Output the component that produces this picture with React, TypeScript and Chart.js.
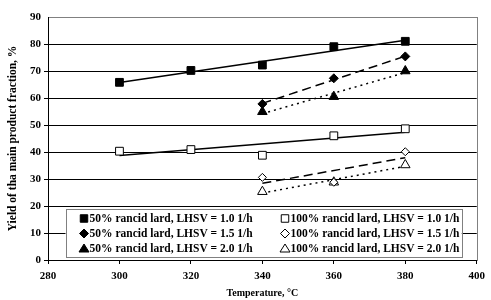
import React, { useEffect, useRef } from "react";
import { Chart, registerables } from "chart.js";

Chart.register(...registerables);

const temps = [300, 320, 340, 360, 380];
const tempsShort = [340, 360, 380];
const lard50_lhsv10 = [65.8, 70.2, 72.2, 79.0, 81.0];
const lard100_lhsv10 = [40.3, 40.9, 38.8, 46.0, 48.6];
const lard50_lhsv15 = [57.8, 67.3, 75.4];
const lard100_lhsv15 = [30.6, 28.8, 40.1];
const lard50_lhsv20 = [54.9, 60.5, 70.0];
const lard100_lhsv20 = [25.3, 28.8, 35.2];

const trendXLong = [300, 380];
const trendXShort = [340, 380];
const trend50_10 = [65.7, 81.4];
const trend100_10 = [38.7, 47.3];
const trend50_15 = [58.0, 75.5];
const trend100_15 = [28.4, 37.9];
const trend50_20 = [54.2, 69.4];
const trend100_20 = [24.8, 34.7];

const legendLabels = [
  "50% rancid lard, LHSV = 1.0 1/h",
  "50% rancid lard, LHSV = 1.5 1/h",
  "50% rancid lard, LHSV = 2.0 1/h",
  "100% rancid lard, LHSV = 1.0 1/h",
  "100% rancid lard, LHSV = 1.5 1/h",
  "100% rancid lard, LHSV = 2.0 1/h",
];

const FONT = "'Liberation Serif', 'Times New Roman', serif";

const pts = (xs: number[], ys: number[]) => xs.map((x, i) => ({ x, y: ys[i] }));

function markerDs(label: string, xs: number[], ys: number[], style: string, filled: boolean, r: number) {
  return {
    label,
    data: pts(xs, ys),
    showLine: false,
    pointStyle: style,
    pointRadius: r,
    pointBackgroundColor: filled ? "#000" : "#fff",
    pointBorderColor: "#000",
    pointBorderWidth: 1,
    borderColor: "#000",
    backgroundColor: filled ? "#000" : "#fff",
    order: 0,
  };
}

function trendDs(xs: number[], ys: number[], dash: number[]) {
  return {
    label: "",
    data: pts(xs, ys),
    showLine: true,
    pointRadius: 0,
    borderColor: "#000",
    borderWidth: 1.5,
    borderDash: dash,
    order: 1,
  };
}

function drawMarker(ctx: CanvasRenderingContext2D, style: string, x: number, y: number, r: number, filled: boolean) {
  ctx.beginPath();
  if (style === "rect") {
    const s = Math.SQRT1_2 * r;
    ctx.rect(x - s, y - s, 2 * s, 2 * s);
  } else if (style === "rectRot") {
    ctx.moveTo(x, y - r);
    ctx.lineTo(x + r, y);
    ctx.lineTo(x, y + r);
    ctx.lineTo(x - r, y);
    ctx.closePath();
  } else {
    ctx.moveTo(x, y - r);
    ctx.lineTo(x + r, y + r * 0.6);
    ctx.lineTo(x - r, y + r * 0.6);
    ctx.closePath();
  }
  ctx.fillStyle = filled ? "#000" : "#fff";
  ctx.strokeStyle = "#000";
  ctx.lineWidth = 1;
  ctx.fill();
  ctx.stroke();
}

const legendPlugin = {
  id: "customLegend",
  afterDraw(chart: any) {
    const { ctx, chartArea } = chart;
    const left = chartArea.left + 17.5;
    const right = chartArea.right - 15;
    const bottom = chartArea.bottom - 3;
    const top = bottom - 48;
    ctx.save();
    ctx.fillStyle = "#fff";
    ctx.fillRect(left, top, right - left, bottom - top);
    ctx.strokeStyle = "#808080";
    ctx.lineWidth = 1;
    ctx.strokeRect(Math.round(left) + 0.5, Math.round(top) + 0.5, Math.round(right - left), Math.round(bottom - top));
    ctx.font = `bold 11.5px ${FONT}`;
    ctx.textBaseline = "middle";
    const rows = [top + 9.5, top + 24.5, top + 40];
    const cols = [left + 18.5, left + 219.5];
    const styles = ["rect", "rectRot", "triangle"];
    const radii = [5.3, 4.5, 5];
    for (let c = 0; c < 2; c++) {
      for (let r = 0; r < 3; r++) {
        const mx = cols[c];
        const my = rows[r];
        drawMarker(ctx, styles[r], mx, my, radii[r], c === 0);
        ctx.fillStyle = "#000";
        ctx.textAlign = "left";
        ctx.fillText(legendLabels[c * 3 + r], mx + 5.5, my + 0.5);
      }
    }
    ctx.restore();
  },
};

const borderPlugin = {
  id: "plotBorder",
  beforeDraw(chart: any) {
    const { ctx, chartArea } = chart;
    ctx.save();
    ctx.strokeStyle = "#808080";
    ctx.lineWidth = 1;
    ctx.strokeRect(
      Math.round(chartArea.left) + 0.5,
      Math.round(chartArea.top) + 0.5,
      Math.round(chartArea.right - chartArea.left),
      Math.round(chartArea.bottom - chartArea.top)
    );
    ctx.restore();
  },
};

export default function App() {
  const ref = useRef<HTMLCanvasElement>(null);
  useEffect(() => {
    if (!ref.current) return;
    const chart = new Chart(ref.current, {
      type: "scatter",
      data: {
        datasets: [
          trendDs(trendXLong, trend50_10, []),
          trendDs(trendXLong, trend100_10, []),
          trendDs(trendXShort, trend50_15, [9, 5]),
          trendDs(trendXShort, trend100_15, [9, 5]),
          trendDs(trendXShort, trend50_20, [2, 4]),
          trendDs(trendXShort, trend100_20, [2, 4]),
          markerDs(legendLabels[0], temps, lard50_lhsv10, "rect", true, 5.5),
          markerDs(legendLabels[3], temps, lard100_lhsv10, "rect", false, 5.5),
          markerDs(legendLabels[1], tempsShort, lard50_lhsv15, "rectRot", true, 4.5),
          markerDs(legendLabels[4], tempsShort, lard100_lhsv15, "rectRot", false, 4),
          markerDs(legendLabels[2], tempsShort, lard50_lhsv20, "triangle", true, 5.5),
          markerDs(legendLabels[5], tempsShort, lard100_lhsv20, "triangle", false, 5.5),
        ] as any,
      },
      options: {
        animation: false,
        responsive: false,
        maintainAspectRatio: false,
        layout: { padding: { top: 17, right: 8, left: 0, bottom: 0 } },
        plugins: { legend: { display: false }, tooltip: { enabled: false } },
        scales: {
          x: {
            type: "linear",
            min: 280,
            max: 400,
            ticks: { stepSize: 20, color: "#000", font: { family: FONT, size: 11, weight: "bold" }, padding: 6 },
            grid: { drawOnChartArea: false, color: "#000", tickLength: 4 },
            border: { color: "#000", width: 1 },
            title: { display: true, text: "Temperature, °C", color: "#000", font: { family: FONT, size: 10, weight: "bold" }, padding: { top: 2, bottom: 1 } },
            afterFit: (s: any) => { s.height = 40; },
          },
          y: {
            min: 0,
            max: 90,
            ticks: { stepSize: 10, color: "#000", font: { family: FONT, size: 11, weight: "bold" }, padding: 3 },
            grid: {
              color: (c: any) => (c.tick && c.tick.value === 90 ? "rgba(0,0,0,0)" : "#000"),
              tickLength: 4,
              lineWidth: 1,
            },
            border: { color: "#000", width: 1 },
            title: { display: true, text: "Yield of tha main product fraction, %", color: "#000", font: { family: FONT, size: 11.5, weight: "bold" }, padding: { top: 6, bottom: 0 } },
            afterFit: (s: any) => { s.width = 48; },
          },
        },
      } as any,
      plugins: [borderPlugin, legendPlugin],
    });
    return () => chart.destroy();
  }, []);
  return (
    <div style={{ position: "fixed", left: 0, top: 0, width: 491, height: 300, background: "#fff" }}>
      <canvas ref={ref} width={491} height={300} style={{ width: 491, height: 300 }} />
    </div>
  );
}
